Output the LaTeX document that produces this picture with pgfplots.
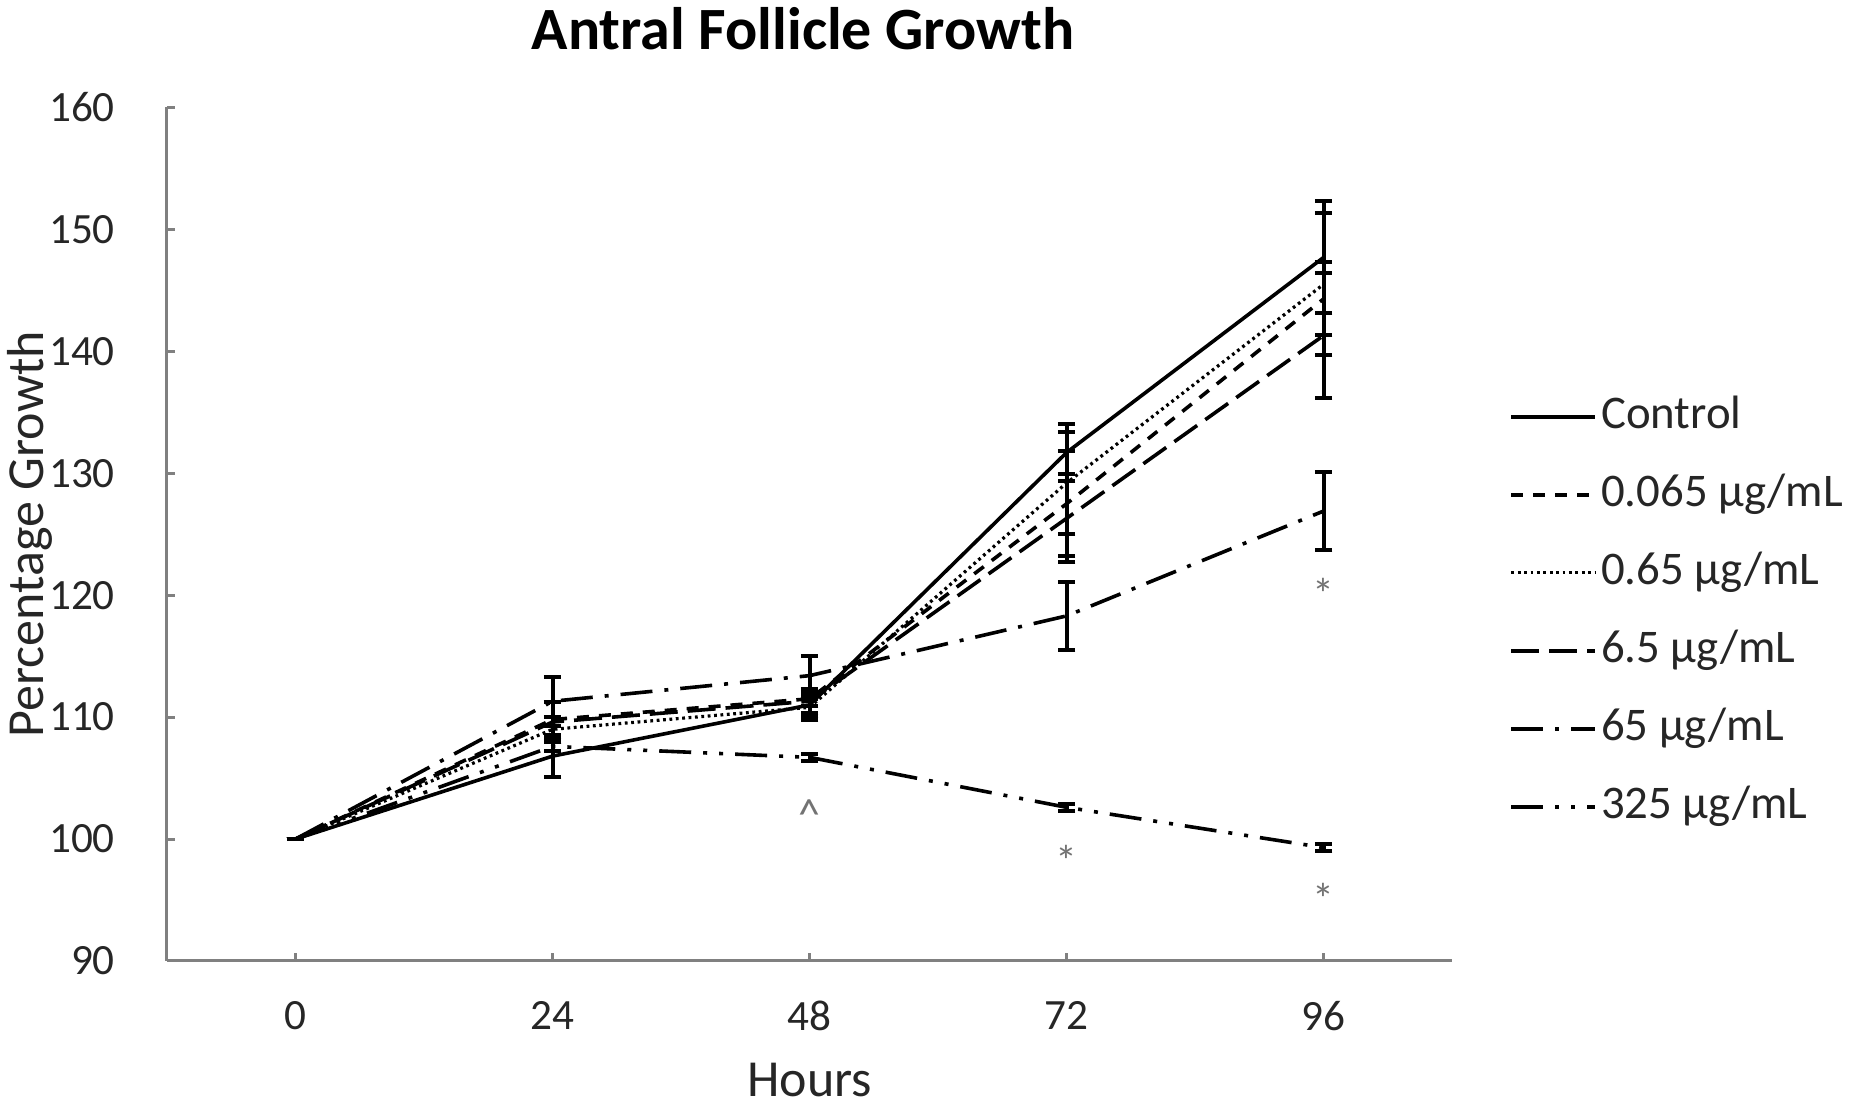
\documentclass[border=0pt]{standalone}
\usepackage{pgfplots}
\pgfplotsset{compat=1.18}
\usepackage{fontspec}
\setmainfont{Carlito}
\begin{document}
\begin{tikzpicture}
\useasboundingbox (-41.75pt,-35.75pt) rectangle (422.25pt,240.25pt);
\pgfplotsset{
  eb/.style={error bars/.cd, y dir=both, y explicit,
    error bar style={solid, line width=1pt, black},
    error mark options={rotate=90, mark size=2.2pt, line width=1pt, solid, black}},
}
\begin{axis}[
  at={(0pt,0pt)}, anchor=south west,
  scale only axis, width=321.3pt, height=213.4pt,
  xmin=-12, xmax=108, ymin=90, ymax=160,
  xtick={0,24,48,72,96}, ytick={90,100,...,160},
  axis x line=bottom, axis y line=left,
  axis line style={-, draw=black!50, line width=0.75pt},
  tick style={draw=black!50, line width=0.75pt},
  tick align=inside, major tick length=2pt,
  /pgf/number format/assume math mode=true,
  tick label style={font=\fontsize{10.8}{13}\selectfont, text=black!85},
  yticklabel style={xshift=-9.5pt},
  xticklabel style={yshift=-6.5pt},
  title={Antral Follicle Growth},
  title style={font=\bfseries\fontsize{15}{18}\selectfont, at={(axis description cs:0.495,1)}, anchor=center, yshift=13.8pt},
  xlabel={Hours}, ylabel={Percentage Growth},
  xlabel style={font=\fontsize{13}{16}\selectfont, text=black!85, at={(axis description cs:0.5,-0.139)}, anchor=center},
  ylabel style={font=\fontsize{13}{16}\selectfont, text=black!85, at={(axis description cs:-0.107,0.5)}, anchor=center},
  legend style={draw=none, fill=none, inner sep=0pt, at={(1.044,0.409)}, anchor=west,
    font=\fontsize{11.7}{14}\selectfont, row sep=6.5pt,
    nodes={inner sep=1pt, text height=8.5pt, text depth=2.5pt, text=black!85}},
  legend cell align=left,
  legend image code/.code={\draw[#1] (0pt,0pt) -- (21pt,0pt);},
]
\addplot[black, line width=0.9pt, mark=none, solid, eb] coordinates {(0,100) +- (0,0) (24,106.8) +- (0,1.7) (48,111.0) +- (0,1.2) (72,131.7) +- (0,2.3) (96,147.7) +- (0,4.6)};
\addlegendentry{Control}
\addplot[black, line width=0.9pt, mark=none, dash pattern=on 3pt off 2.5pt, eb] coordinates {(0,100) +- (0,0) (24,109.8) +- (0,1.4) (48,111.5) +- (0,0.6) (72,127.5) +- (0,4.3) (96,144.3) +- (0,3.0)};
\addlegendentry{0.065 µg/mL}
\addplot[black, line width=0.8pt, mark=none, dash pattern=on 0.7pt off 0.9pt, eb] coordinates {(0,100) +- (0,0) (24,109.0) +- (0,1.0) (48,110.8) +- (0,0.7) (72,129.2) +- (0,4.2) (96,145.5) +- (0,5.8)};
\addlegendentry{0.65 µg/mL}
\addplot[black, line width=0.9pt, mark=none, dash pattern=on 7pt off 2.5pt, eb] coordinates {(0,100) +- (0,0) (24,109.6) +- (0,1.6) (48,111.3) +- (0,1.0) (72,126.3) +- (0,3.6) (96,141.3) +- (0,5.1)};
\addlegendentry{6.5 µg/mL}
\addplot[black, line width=0.9pt, mark=none, dash pattern=on 8pt off 3pt on 1pt off 3pt, eb] coordinates {(0,100) +- (0,0) (24,111.3) +- (0,2.0) (48,113.4) +- (0,1.6) (72,118.3) +- (0,2.8) (96,126.9) +- (0,3.2)};
\addlegendentry{65 µg/mL}
\addplot[black, line width=0.9pt, mark=none, dash pattern=on 8pt off 3pt on 1pt off 3pt on 1pt off 3pt, eb] coordinates {(0,100) +- (0,0) (24,107.6) +- (0,0.4) (48,106.7) +- (0,0.3) (72,102.6) +- (0,0.3) (96,99.3) +- (0,0.3)};
\addlegendentry{325 µg/mL}
\addplot[forget plot, draw=none, mark=none, nodes near coords, point meta=explicit symbolic,
  every node near coord/.style={anchor=center, inner sep=0pt, text=black!55, font=\fontsize{11}{13}\selectfont}]
  coordinates {(48,102.0) [\textasciicircum] (72,98.2) [*] (96,95.1) [*] (96,120.1) [*]};
\end{axis}
\end{tikzpicture}
\end{document}
